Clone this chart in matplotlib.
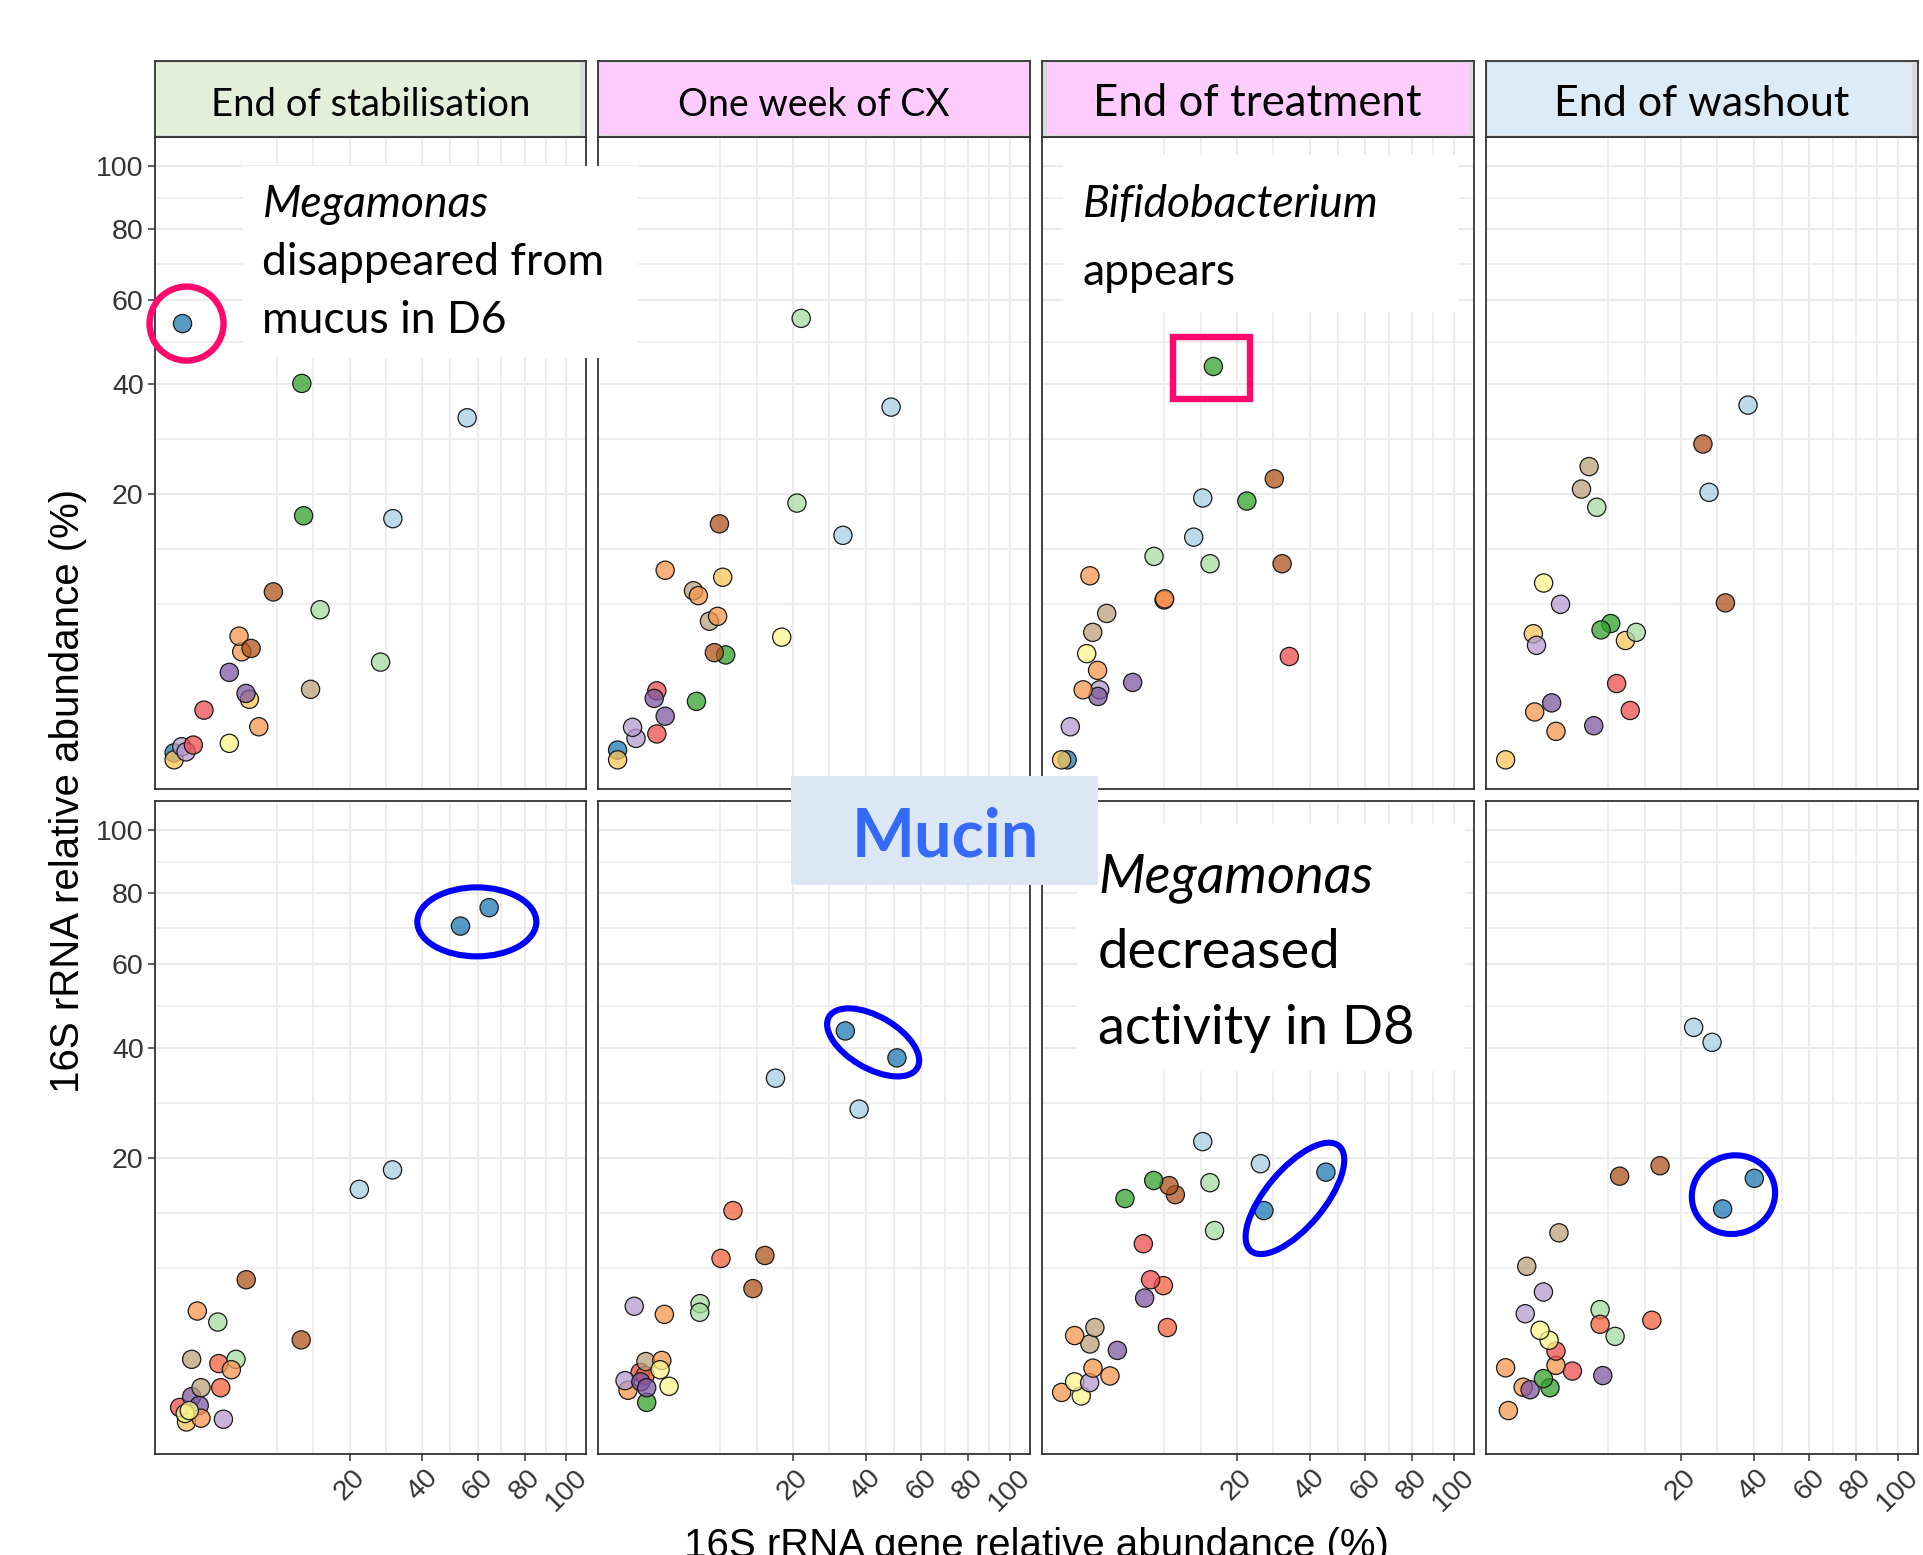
import numpy as np
import matplotlib
matplotlib.use("Agg")
import matplotlib.pyplot as plt
from matplotlib.patches import Rectangle, Ellipse
from matplotlib.transforms import IdentityTransform
from matplotlib.colors import to_rgba

FIG_W, FIG_H, DPI = 1923, 1555, 100

# Facet columns and their strip fills
timepoints = ["End of stabilisation", "One week of CX", "End of treatment", "End of washout"]
strip_fills = ["#E2EFDA", "#FFCCFF", "#FFCCFF", "#DDEBF7"]
strip_sizes = [27.5, 27, 31.5, 31]

# Shared axis breaks (percent, square-root scale)
breaks = [20, 40, 60, 80, 100]
break_labels = ["20", "40", "60", "80", "100"]
limits = [0, 100]

# Fill colour per genus group
genus_fill = {
    "blue": "#1F78B4", "lblue": "#A6CEE3", "green": "#33A02C", "lgreen": "#A7DAA0",
    "red": "#EB4E4E", "salmon": "#F2623E", "peach": "#F5964C", "gold": "#F8C358",
    "brown": "#B0531C", "tan": "#BCA07B", "purple": "#7E58A0", "lav": "#B69BCE",
    "yellow": "#FBF68B",
}

# ---- upper row: gene (x) vs rRNA (y) relative abundance, %
upper_stab_x = [0.0, 0.0, 0.038, 0.092, 0.24, 1.98, 4.66, 0.58, 12.1, 3.68, 3.36, 1.98,
                27.7, 2.97, 2.74, 3.85, 13.85, 6.4, 31.1, 10.9, 55.8, 10.6, 0.046]
upper_stab_y = [0.014, 0.0, 0.049, 0.018, 0.062, 0.077, 0.31, 0.70, 1.41, 1.04, 1.25, 2.17,
                2.71, 3.31, 4.34, 3.52, 6.39, 8.0, 16.5, 16.9, 33.2, 40.2, 54.0]
upper_stab_c = ["blue", "gold", "lav", "lav", "red", "yellow", "peach", "red", "tan", "gold",
                "purple", "purple", "lgreen", "peach", "peach", "brown", "lgreen", "brown",
                "lblue", "green", "lblue", "green", "blue"]

upper_cx_x = [0.0, 0.0, 0.22, 0.145, 1.0, 1.47, 4.04, 1.0, 0.87, 7.59, 6.08, 17.5, 5.48, 6.5,
              3.74, 4.24, 7.18, 1.47, 6.74, 33.0, 20.9, 48.6, 21.9]
upper_cx_y = [0.027, 0.0, 0.13, 0.30, 0.19, 0.54, 0.97, 1.35, 1.07, 3.12, 3.26, 4.27, 5.45,
              5.84, 8.11, 7.65, 9.46, 10.2, 15.8, 14.3, 18.7, 35.3, 55.3]
upper_cx_c = ["blue", "gold", "lav", "lav", "red", "purple", "green", "red", "purple", "green",
              "brown", "yellow", "tan", "peach", "tan", "peach", "gold", "peach", "brown",
              "lblue", "lgreen", "lblue", "lgreen"]

upper_treat_x = [0.02, 0.0, 0.049, 0.94, 0.86, 0.30, 3.28, 0.84, 33.7, 0.41, 0.63, 1.32, 6.82,
                 6.9, 0.52, 5.55, 14.32, 31.6, 11.34, 22.3, 12.94, 29.4, 14.97]
upper_treat_y = [0.0, 0.0, 0.31, 1.39, 1.14, 1.39, 1.70, 2.27, 3.03, 3.2, 4.61, 6.08, 7.25,
                 7.35, 9.61, 11.74, 10.91, 10.91, 14.07, 19.0, 19.45, 22.4, 43.9]
upper_treat_c = ["blue", "gold", "lav", "lav", "purple", "peach", "purple", "peach", "red",
                 "yellow", "tan", "tan", "salmon", "peach", "peach", "lgreen", "lgreen", "brown",
                 "lblue", "green", "lblue", "brown", "green"]

upper_wash_x = [0.0, 1.65, 5.05, 0.55, 1.38, 10.09, 8.01, 0.50, 0.62, 9.33, 11.09, 7.18, 5.92,
                31.4, 1.96, 0.94, 5.40, 26.9, 3.74, 4.53, 25.3, 38.2]
upper_wash_y = [0.0, 0.23, 0.33, 0.65, 0.92, 0.69, 1.65, 4.51, 3.72, 4.04, 4.61, 5.27, 4.79,
                6.99, 6.86, 8.87, 18.1, 20.3, 20.8, 24.4, 28.3, 35.7]
upper_wash_c = ["gold", "peach", "purple", "peach", "purple", "red", "red", "gold", "lav", "gold",
                "lgreen", "green", "green", "brown", "lav", "yellow", "lgreen", "lblue", "tan",
                "tan", "brown", "lblue"]

# ---- mucin row
mucin_stab_x = [0.10, 0.02, 0.20, 0.41, 0.47, 0.08, 0.15, 1.58, 0.47, 1.41, 1.30, 0.20, 2.49,
                2.13, 10.5, 1.24, 0.35, 3.38, 22.3, 31.0, 53.3, 64.5]
mucin_stab_y = [0.001, 0.076, 0.21, 0.096, 0.009, 0.03, 0.05, 0.006, 0.37, 0.37, 1.03, 1.18,
                1.18, 0.83, 2.0, 2.94, 3.61, 5.89, 15.6, 18.3, 70.3, 75.6]
mucin_stab_c = ["gold", "red", "purple", "purple", "peach", "yellow", "yellow", "lav", "tan",
                "salmon", "salmon", "tan", "lgreen", "peach", "brown", "lgreen", "peach", "brown",
                "lblue", "lblue", "blue", "blue"]

mucin_cx_x = [0.07, 0.55, 0.33, 0.49, 0.036, 0.35, 0.55, 0.52, 1.27, 1.17, 1.72, 0.18, 1.42,
              4.42, 4.38, 11.9, 6.95, 14.1, 8.65, 37.9, 16.2, 50.7, 33.7]
mucin_cx_y = [0.32, 0.13, 0.75, 0.66, 0.53, 0.50, 0.37, 1.10, 1.14, 0.83, 0.40, 3.92, 3.40,
              4.10, 3.53, 5.19, 7.76, 8.04, 12.9, 28.1, 33.9, 38.0, 43.8]
mucin_cx_c = ["peach", "green", "red", "salmon", "lav", "purple", "purple", "tan", "peach",
              "yellow", "yellow", "lav", "peach", "lgreen", "lgreen", "brown", "salmon", "brown",
              "salmon", "lblue", "lblue", "blue", "blue"]

mucin_treat_x = [0.0, 0.25, 0.11, 0.51, 1.52, 0.64, 2.02, 0.52, 0.11, 0.72, 7.27, 4.48, 6.73,
                 5.15, 4.34, 15.2, 26.6, 2.61, 8.41, 7.5, 14.3, 5.51, 45.4, 25.7, 12.94]
mucin_treat_y = [0.28, 0.22, 0.50, 0.48, 0.65, 0.88, 1.53, 1.81, 2.21, 2.63, 2.63, 4.49, 5.42,
                 5.89, 9.2, 10.6, 12.9, 14.4, 14.9, 16.1, 16.5, 16.8, 17.97, 19.2, 22.6]
mucin_treat_c = ["peach", "yellow", "yellow", "lav", "peach", "peach", "purple", "tan", "peach",
                 "tan", "salmon", "purple", "salmon", "red", "red", "lgreen", "blue", "green",
                 "brown", "brown", "lgreen", "green", "blue", "lblue", "lblue"]

mucin_wash_x = [0.005, 0.20, 0.39, 1.28, 0.93, 6.14, 2.90, 1.65, 0.0, 1.65, 1.23, 0.77, 7.79,
                5.80, 5.80, 13.9, 0.25, 0.93, 0.29, 1.85, 30.6, 40.2, 8.45, 15.5, 27.7, 22.98]
mucin_wash_y = [0.05, 0.38, 0.33, 0.37, 0.58, 0.66, 0.79, 0.97, 0.89, 1.50, 1.98, 2.48, 2.17,
                3.70, 2.81, 3.04, 3.44, 4.93, 7.04, 10.35, 13.1, 17.1, 17.4, 18.9, 41.3, 44.6]
mucin_wash_c = ["peach", "peach", "purple", "green", "green", "purple", "red", "peach", "peach",
                "red", "yellow", "yellow", "lgreen", "lgreen", "salmon", "salmon", "lav", "lav",
                "tan", "tan", "blue", "blue", "brown", "brown", "lblue", "lblue"]

panels = [
    [(upper_stab_x, upper_stab_y, upper_stab_c), (upper_cx_x, upper_cx_y, upper_cx_c),
     (upper_treat_x, upper_treat_y, upper_treat_c), (upper_wash_x, upper_wash_y, upper_wash_c)],
    [(mucin_stab_x, mucin_stab_y, mucin_stab_c), (mucin_cx_x, mucin_cx_y, mucin_cx_c),
     (mucin_treat_x, mucin_treat_y, mucin_treat_c), (mucin_wash_x, mucin_wash_y, mucin_wash_c)],
]

plt.rcParams["font.family"] = ["Liberation Sans", "DejaVu Sans"]
OVERLAY_FONT = ["Lato", "DejaVu Sans"]

fig = plt.figure(figsize=(FIG_W / DPI, FIG_H / DPI), dpi=DPI)
fig.patch.set_facecolor("white")


def frac_rect(x0, y0, x1, y1):
    """Pixel box (top-left origin) -> figure-fraction [left, bottom, width, height]."""
    return [x0 / FIG_W, 1 - y1 / FIG_H, (x1 - x0) / FIG_W, (y1 - y0) / FIG_H]


def sqrt_fwd(v):
    v = np.asarray(v, dtype=float)
    return np.sign(v) * np.sqrt(np.abs(v))


def sqrt_inv(v):
    v = np.asarray(v, dtype=float)
    return np.sign(v) * v * v


# view range: limits expanded by 5% in transformed space
lo, hi = sqrt_fwd(limits)
pad = 0.05 * (hi - lo)
view = sqrt_inv([lo - pad, hi + pad])

# minor breaks: one extra step below the first break, then midpoints
tb = sqrt_fwd(breaks)
step = tb[1] - tb[0]
ext = np.concatenate([[tb[0] - step], tb])
minor_breaks = sqrt_inv(np.concatenate([[ext[0]], (ext[:-1] + ext[1:]) / 2]))

col_left = [154.5, 598, 1042, 1486]
col_w = 431.5
row_span = [(136.5, 789.5), (800.5, 1453.5)]
strip_span = (61, 136.5)
strip_pads = [(1, 6), (2, 1), (5, 5), (2, 6)]
AX_DARK = "#333333"
GRID = "#EBEBEB"

axes = [[None] * 4 for _ in range(2)]
for r in range(2):
    for c in range(4):
        x0 = col_left[c]
        ax = fig.add_axes(frac_rect(x0, row_span[r][0], x0 + col_w, row_span[r][1]))
        axes[r][c] = ax
        for axis in ("x", "y"):
            getattr(ax, f"set_{axis}scale")("function", functions=(sqrt_fwd, sqrt_inv))
        ax.set_xlim(view)
        ax.set_ylim(view)
        ax.set_xticks(breaks)
        ax.set_yticks(breaks)
        ax.set_xticks(minor_breaks, minor=True)
        ax.set_yticks(minor_breaks, minor=True)
        ax.grid(which="major", color=GRID, linewidth=1.5)
        ax.grid(which="minor", color=GRID, linewidth=1.2)
        ax.set_axisbelow(True)
        ax.tick_params(which="minor", length=0)
        for sp in ax.spines.values():
            sp.set_color(AX_DARK)
            sp.set_linewidth(1.3)

        if c == 0:
            ax.set_yticklabels(break_labels)
            ax.tick_params(axis="y", which="major", length=4.8, width=1.1, color=AX_DARK,
                           labelsize=20.5, labelcolor=AX_DARK, pad=3)
        else:
            ax.tick_params(axis="y", which="major", length=0, labelleft=False)
        if r == 1:
            ax.set_xticklabels(break_labels, rotation=45, ha="center", va="top")
            ax.tick_params(axis="x", which="major", length=4.8, width=1.1, color=AX_DARK,
                           labelsize=20.5, labelcolor=AX_DARK, pad=3)
        else:
            ax.tick_params(axis="x", which="major", length=0, labelbottom=False)

        xs, ys, keys = panels[r][c]
        fills = [to_rgba(genus_fill[k], 0.75) for k in keys]
        ax.scatter(xs, ys, s=172, c=fills, edgecolors="#1A1A1A", linewidths=0.9, zorder=3)

# facet strips
for c in range(4):
    x0 = col_left[c]
    sax = fig.add_axes(frac_rect(x0, strip_span[0], x0 + col_w, strip_span[1]))
    sax.set_facecolor("#D9D9D9")
    sax.set_xticks([])
    sax.set_yticks([])
    for sp in sax.spines.values():
        sp.set_color(AX_DARK)
        sp.set_linewidth(1.3)
    sh = strip_span[1] - strip_span[0]
    pl, pr = strip_pads[c]
    sax.add_patch(Rectangle((pl / col_w, 2 / sh), 1 - (pl + pr) / col_w, 1 - 4 / sh,
                            transform=sax.transAxes, facecolor=strip_fills[c],
                            edgecolor="none", zorder=1))
    sax.text(0.5, (strip_span[1] - 116) / sh, timepoints[c], transform=sax.transAxes,
             ha="center", va="baseline", fontsize=strip_sizes[c], family=OVERLAY_FONT,
             color="black", zorder=2)

# axis titles
fig.text(68 / FIG_W, 1 - 791 / FIG_H, "16S rRNA relative abundance (%)", rotation=90,
         ha="center", va="center", fontsize=29, color="black")
fig.text(1036 / FIG_W, -0.001, "16S rRNA gene relative abundance (%)",
         ha="center", va="baseline", fontsize=29, color="black")


# ---- call-out boxes and highlight marks drawn on top of the panels
def white_box(x0, y0, x1, y1, fill="white"):
    fig.add_artist(Rectangle((x0 / FIG_W, 1 - y1 / FIG_H), (x1 - x0) / FIG_W, (y1 - y0) / FIG_H,
                             transform=fig.transFigure, facecolor=fill, edgecolor="none",
                             zorder=5))


def note(x, y_base, s, size, italic=False, **kw):
    fig.text(x / FIG_W, 1 - y_base / FIG_H, s, ha="left", va="baseline", fontsize=size,
             family=OVERLAY_FONT, style="italic" if italic else "normal", zorder=6, **kw)


white_box(243, 166, 637.5, 358)
note(262.5, 217, "Megamonas", 32, italic=True)
note(262.5, 275, "disappeared from", 32)
note(262.5, 333, "mucus in D6", 32)

white_box(1063, 155.5, 1458, 312)
note(1083, 217, "Bifidobacterium", 32, italic=True)
note(1083, 285, "appears", 32)

white_box(1077, 823.5, 1465, 1070.5)
note(1098, 892.5, "Megamonas", 39, italic=True)
note(1098, 967.5, "decreased", 39)
note(1098, 1044, "activity in D8", 39)

white_box(791, 776, 1097.6, 885.5, fill="#DCE7F5")
fig.text(945 / FIG_W, 1 - 856.5 / FIG_H, "Mucin", ha="center", va="baseline", fontsize=48,
         fontweight="bold", family=OVERLAY_FONT, color="#3569F7", zorder=6)


def display_xy(ax, x, y):
    return ax.transData.transform((x, y))


def pick(panel, key, n):
    xs, ys, keys = panel
    idx = [i for i, k in enumerate(keys) if k == key]
    idx = sorted(idx, key=lambda i: ys[i])[-n:]
    return [(xs[i], ys[i]) for i in idx]


HILITE_PINK = "#FF0A6C"
HILITE_BLUE = "#0000FF"

# pink circle round the high-activity Megamonas point (upper, stabilisation)
(px, py), = pick(panels[0][0], "blue", 1)
cx, cy = display_xy(axes[0][0], px, py)
fig.add_artist(Ellipse((cx + 4, cy), 74, 74, transform=IdentityTransform(), fill=False,
                       edgecolor=HILITE_PINK, linewidth=4.6, zorder=7))

# pink square round the Bifidobacterium point (upper, end of treatment)
(px, py), = pick(panels[0][2], "green", 1)
cx, cy = display_xy(axes[0][2], px, py)
fig.add_artist(Rectangle((cx - 2 - 38.5, cy - 1.5 - 31), 77, 62, transform=IdentityTransform(),
                         fill=False, edgecolor=HILITE_PINK, linewidth=4.6, zorder=7))

# blue ellipses round the Megamonas pair in each mucin panel: (w, h, angle, dx, dy)
ellipse_geom = [(119, 69, 0, 2, -5), (102, 52, -30, 2, 2), (137, 58, 50, 0, -7),
                (84, 78, 20, -5, -1)]
for c in range(4):
    pts = pick(panels[1][c], "blue", 2)
    d = np.array([display_xy(axes[1][c], x, y) for x, y in pts]).mean(axis=0)
    w, h, ang, dx, dy = ellipse_geom[c]
    fig.add_artist(Ellipse((d[0] + dx, d[1] + dy), w, h, angle=ang,
                           transform=IdentityTransform(), fill=False,
                           edgecolor=HILITE_BLUE, linewidth=4.4, zorder=7))

fig.savefig("out.png", dpi=DPI)
